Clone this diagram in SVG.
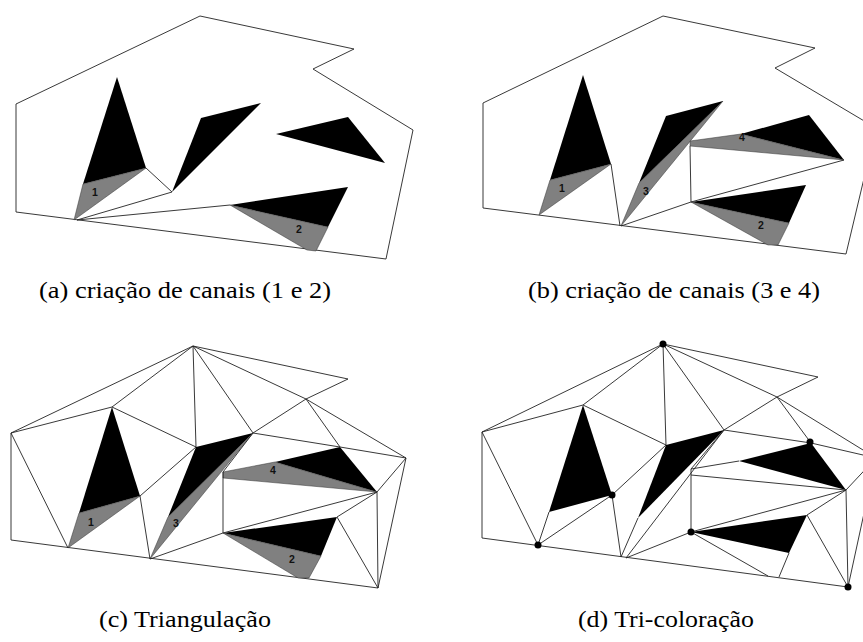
<svg xmlns="http://www.w3.org/2000/svg" width="863" height="642" viewBox="0 0 863 642">
<style>
.ln{fill:none;stroke:#222;stroke-width:0.9;stroke-linejoin:miter}
.bk{fill:#000}
.gr{fill:#808080;stroke:#333;stroke-width:0.5}
.num{font-family:"Liberation Sans",Arial,sans-serif;font-size:10.5px;font-weight:bold;fill:#111;text-anchor:middle}
.cap{font-family:"Liberation Serif","Times New Roman",serif;font-size:23px;fill:#000;text-anchor:middle}
.dot{fill:#000}
</style>
<rect width="863" height="642" fill="#fff"/>

<!-- Panel (a) -->
<g id="panel-a">
  <polygon class="ln" points="200,16 354,49 313,69 413,130 386,259 16,212 16,104"/>
  <polygon class="bk" points="117,77 146,168 83,184"/>
  <polygon class="gr" points="83,184 146,168 74,220"/>
  <polygon class="bk" points="172,192 201,118 261,103"/>
  <polygon class="bk" points="276,134 348,117 385,163"/>
  <polygon class="bk" points="230,205 348,187 328,227"/>
  <polygon class="gr" points="230,205 328,227 316,251 307,250"/>
  <polyline class="ln" points="146,168 172,192 77,220 230,205"/>
  <text class="num" x="95" y="196">1</text>
  <text class="num" x="299" y="233">2</text>
</g>

<!-- Panel (b) -->
<g id="panel-b">
  <polygon class="ln" points="663,16 815,48 775,68 876,128 846,254 483,208 483,103"/>
  <polygon class="bk" points="583,75 611,164 550,180"/>
  <polygon class="gr" points="550,180 611,164 539,215"/>
  <polygon class="bk" points="666,116 723,101 639,183"/>
  <polygon class="gr" points="639,183 723,101 621,226"/>
  <polygon class="bk" points="741,134 809,115 844,160"/>
  <polygon class="gr" points="690,141 741,134 844,160 690,146"/>
  <polygon class="bk" points="691,202 806,185 789,223"/>
  <polygon class="gr" points="691,202 789,223 778,245 768,245"/>
  <line class="ln" x1="611" y1="164" x2="620" y2="226"/>
  <polyline class="ln" points="621,226 691,202 690,146"/>
  <line class="ln" x1="691" y1="202" x2="844" y2="160"/>
  <text class="num" x="562" y="192">1</text>
  <text class="num" x="761" y="229">2</text>
  <text class="num" x="646" y="195">3</text>
  <text class="num" x="742" y="141">4</text>
</g>

<!-- Panel (c) -->
<g id="panel-c">
  <polygon class="ln" points="193,346 348,379 306,399 406,458 378,588 11,540 11,433"/>
  <polygon class="bk" points="112,407 140,496 79,513"/>
  <polygon class="gr" points="79,513 140,496 68,548"/>
  <polygon class="bk" points="196,447 253,433 168,517"/>
  <polygon class="gr" points="168,517 253,433 150,559"/>
  <polygon class="bk" points="275,462 340,447 377,492"/>
  <polygon class="gr" points="223,472 275,462 377,492 223,478"/>
  <polygon class="bk" points="223,533 337,517 321,556"/>
  <polygon class="gr" points="223,533 321,556 309,578 298,578"/>
  <g class="ln">
    <line x1="11" y1="433" x2="112" y2="407"/>
    <line x1="11" y1="433" x2="68" y2="548"/>
    <line x1="193" y1="346" x2="112" y2="407"/>
    <line x1="112" y1="407" x2="196" y2="447"/>
    <line x1="193" y1="346" x2="196" y2="447"/>
    <line x1="193" y1="346" x2="253" y2="433"/>
    <line x1="193" y1="346" x2="306" y2="399"/>
    <line x1="253" y1="433" x2="306" y2="399"/>
    <line x1="306" y1="399" x2="340" y2="447"/>
    <line x1="253" y1="433" x2="340" y2="447"/>
    <line x1="340" y1="447" x2="406" y2="458"/>
    <line x1="406" y1="458" x2="377" y2="492"/>
    <line x1="377" y1="492" x2="378" y2="588"/>
    <line x1="377" y1="492" x2="223" y2="533"/>
    <line x1="377" y1="492" x2="337" y2="517"/>
    <line x1="337" y1="517" x2="378" y2="588"/>
    <line x1="223" y1="472" x2="223" y2="533"/>
    <line x1="223" y1="472" x2="253" y2="433"/>
    <line x1="223" y1="533" x2="150" y2="559"/>
    <line x1="150" y1="559" x2="140" y2="496"/>
    <line x1="140" y1="496" x2="196" y2="447"/>
  </g>
  <text class="num" x="91" y="526">1</text>
  <text class="num" x="292" y="563">2</text>
  <text class="num" x="176" y="527">3</text>
  <text class="num" x="273" y="474">4</text>
</g>

<!-- Panel (d) -->
<g id="panel-d">
  <polygon class="ln" points="663,344 818,377 777,397 876,458 848,587 482,538 482,432"/>
  <polygon class="bk" points="583,405 612,495 549,512"/>
  <polygon class="bk" points="666,445 724,430 638,518"/>
  <polygon class="bk" points="739,461 811,443 846,490"/>
  <polygon class="bk" points="691,532 807,515 789,553"/>
  <g class="ln">
    <line x1="482" y1="432" x2="583" y2="405"/>
    <line x1="482" y1="432" x2="538" y2="545"/>
    <line x1="663" y1="344" x2="583" y2="405"/>
    <line x1="583" y1="405" x2="666" y2="445"/>
    <line x1="663" y1="344" x2="666" y2="445"/>
    <line x1="663" y1="344" x2="724" y2="430"/>
    <line x1="663" y1="344" x2="777" y2="397"/>
    <line x1="724" y1="430" x2="777" y2="397"/>
    <line x1="777" y1="397" x2="811" y2="443"/>
    <line x1="724" y1="430" x2="811" y2="443"/>
    <line x1="811" y1="443" x2="876" y2="458"/>
    <line x1="876" y1="458" x2="846" y2="490"/>
    <line x1="846" y1="490" x2="848" y2="587"/>
    <line x1="846" y1="490" x2="691" y2="532"/>
    <line x1="846" y1="490" x2="807" y2="515"/>
    <line x1="807" y1="515" x2="848" y2="587"/>
    <line x1="789" y1="553" x2="779" y2="577"/>
    <line x1="691" y1="532" x2="768" y2="576"/>
    <line x1="691" y1="469" x2="691" y2="532"/>
    <line x1="691" y1="469" x2="739" y2="461"/>
    <line x1="691" y1="475" x2="846" y2="490"/>
    <line x1="691" y1="469" x2="724" y2="430"/>
    <line x1="691" y1="532" x2="626" y2="558"/>
    <line x1="626" y1="558" x2="724" y2="430"/>
    <line x1="621" y1="557" x2="638" y2="518"/>
    <line x1="621" y1="557" x2="612" y2="495"/>
    <line x1="612" y1="495" x2="666" y2="445"/>
    <line x1="612" y1="495" x2="538" y2="545"/>
    <line x1="538" y1="545" x2="549" y2="512"/>
  </g>
  <circle class="dot" cx="663" cy="344" r="3.5"/>
  <circle class="dot" cx="612" cy="495" r="3.5"/>
  <circle class="dot" cx="538" cy="545" r="3.5"/>
  <circle class="dot" cx="691" cy="532" r="3.5"/>
  <circle class="dot" cx="810" cy="442" r="3.5"/>
  <circle class="dot" cx="848" cy="587" r="3.5"/>
</g>

<g id="captions">
  <text class="cap" x="185" y="298" textLength="292" lengthAdjust="spacingAndGlyphs">(a) criação de canais (1 e 2)</text>
  <text class="cap" x="674" y="298" textLength="292" lengthAdjust="spacingAndGlyphs">(b) criação de canais (3 e 4)</text>
  <text class="cap" x="185" y="627" textLength="172" lengthAdjust="spacingAndGlyphs">(c) Triangulação</text>
  <text class="cap" x="666" y="627" textLength="176" lengthAdjust="spacingAndGlyphs">(d) Tri-coloração</text>
</g>
</svg>
